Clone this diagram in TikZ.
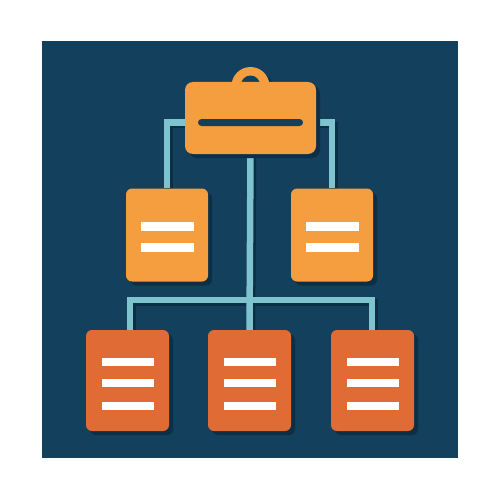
\documentclass[tikz,border=0pt]{standalone}
\usetikzlibrary{shadows,calc}
\definecolor{navy}{HTML}{13405C}
\definecolor{shade}{HTML}{0C2F45}
\definecolor{lorange}{HTML}{F59E3F}
\definecolor{dorange}{HTML}{E06B35}
\definecolor{lblue}{HTML}{7EC3CE}
\pgfdeclarelayer{bg}
\pgfdeclarelayer{mid}
\pgfsetlayers{bg,mid,main}
\tikzset{
  boxshadow/.style={drop shadow={shadow xshift=4pt,shadow yshift=-4pt,fill=shade,opacity=1}},
  topbox/.style={fill=lorange,rounded corners=8pt,minimum width=131pt,minimum height=72pt,inner sep=0pt,boxshadow},
  midbox/.style={fill=lorange,rounded corners=6pt,minimum width=82pt,minimum height=93pt,inner sep=0pt,boxshadow},
  lowbox/.style={fill=dorange,rounded corners=6pt,minimum width=83pt,minimum height=101pt,inner sep=0pt,boxshadow},
  wbar/.style={fill=white,minimum width=53pt,minimum height=9pt,inner sep=0pt},
  lbar/.style={fill=white,minimum width=52pt,minimum height=8pt,inner sep=0pt},
  conn/.style={draw=lblue,line width=6.5pt},
  connshade/.style={draw=shade,line width=6.5pt},
}
\begin{document}
\begin{tikzpicture}[x=1pt,y=-1pt]
\useasboundingbox (0,0) rectangle (500,500);
\begin{pgfonlayer}{bg}
\fill[white] (0,0) rectangle (500,500);
\fill[navy] (42,41) rectangle (458,458);
\end{pgfonlayer}
% tab
\node[circle,fill=lorange,minimum size=38pt,inner sep=0pt,boxshadow] (tab) at (250.5,86) {};
\node[circle,fill=navy,minimum size=19pt,inner sep=0pt] (hole) at (250.5,85) {};
% boxes
\node[topbox] (top) at (250.5,118) {};
\node[fill=navy,rounded corners=3.5pt,minimum width=105pt,minimum height=7pt,inner sep=0pt] (tbar) at (250.5,122.5) {};
\node[midbox] (ml) at (167,235) {};
\node[midbox] (mr) at (332,235) {};
\node[lowbox] (bl) at (127.5,380.5) {};
\node[lowbox] (bm) at (249.5,380.5) {};
\node[lowbox] (br) at (372.5,380.5) {};
% bars
\foreach \b in {ml,mr}{
  \node[wbar] (\b a) at ($(\b.center)+(0,-9)$) {};
  \node[wbar] (\b b) at ($(\b.center)+(0,12.5)$) {};
}
\foreach \b in {bl,bm,br}{
  \node[lbar] (\b a) at ($(\b.center)+(0,-18.5)$) {};
  \node[lbar] (\b b) at ($(\b.center)+(0,2.5)$) {};
  \node[lbar] (\b c) at ($(\b.center)+(0,25.5)$) {};
}
\coordinate (hub) at (250,300);
\coordinate (lk) at (top.west|-tbar.center);
\coordinate (rk) at (top.east|-tbar.center);
% connectors
\begin{pgfonlayer}{mid}
\begin{scope}[transform canvas={xshift=2.5pt,yshift=-2.5pt}]
\draw[connshade] (lk) -| (ml.north);
\draw[connshade] (rk) -| (mr.north);
\draw[connshade] (top.south) -- (bm.north);
\draw[connshade] ([xshift=2.5pt]bl.north) |- (hub) -| ([xshift=-0.5pt]br.north);
\end{scope}
\draw[conn] (lk) -| (ml.north);
\draw[conn] (rk) -| (mr.north);
\draw[conn] (top.south) -- (bm.north);
\draw[conn] ([xshift=2.5pt]bl.north) |- (hub) -| ([xshift=-0.5pt]br.north);
\end{pgfonlayer}
\end{tikzpicture}
\end{document}
